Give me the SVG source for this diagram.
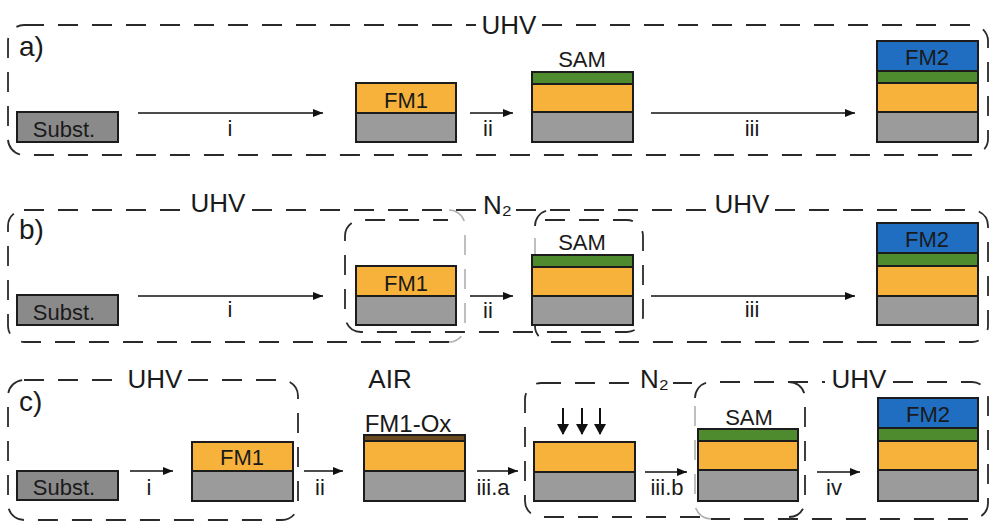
<svg xmlns="http://www.w3.org/2000/svg" width="990" height="523" viewBox="0 0 990 523">
<defs>
<style>
.dash{fill:none;stroke:#2a2a2a;stroke-width:1.8;stroke-dasharray:20 14}
.dashl{fill:none;stroke:#b0b0b0;stroke-width:1.6;stroke-dasharray:20 14}
.lay{stroke:#1c1c1c;stroke-width:2}
.sub{fill:#8a8a8a}.gry{fill:#9b9b9b}.org{fill:#F7B23B}.grn{fill:#4E8B2F}.blu{fill:#1F6EC2}.oxd{fill:#6B4A20}
.t{font-family:"Liberation Sans",Arial,"DejaVu Sans",sans-serif;fill:#1a1a1a}
.big{font-size:26px}.lbl{font-size:22px}.pl{font-size:28px}
.arr{stroke:#111;stroke-width:1.6;fill:none;marker-end:url(#ah)}
.darr{stroke:#111;stroke-width:2;fill:none;marker-end:url(#ah2)}
</style>
<marker id="ah" markerWidth="10" markerHeight="8" refX="10" refY="4" orient="auto" markerUnits="userSpaceOnUse"><path d="M0,0 L10,4 L0,8 z" fill="#111"/></marker>
<marker id="ah2" markerWidth="11" markerHeight="12" refX="10" refY="6" orient="auto" markerUnits="userSpaceOnUse"><path d="M0,0 L11,6 L0,12 z" fill="#111"/></marker>
</defs>
<rect width="990" height="523" fill="#fff"/>

<g id="regions">
  <!-- panel a -->
  <path class="dash" d="M24,25 H476 M542,25 H972 A16,16 0 0 1 988,41 V139 A16,16 0 0 1 972,155 H24 A16,16 0 0 1 8,139 V41 A16,16 0 0 1 24,25"/>
  <!-- panel b -->
  <path class="dash" d="M24,210 H186 M252,210 H479 M449,342 H24 A16,16 0 0 1 8,326 V226 A16,16 0 0 1 24,210"/>
  <path class="dashl" d="M449,210 A16,16 0 0 1 465,226 V326 A16,16 0 0 1 449,342"/>
  <path class="dash" d="M545,220 H627 A16,16 0 0 1 643,236 V316 A16,16 0 0 1 627,332 H361 A16,16 0 0 1 345,316 V236 A16,16 0 0 1 361,220 H448"/>
  <path class="dash" d="M516,210 H709 M775,210 H972 A16,16 0 0 1 988,226 V326 A16,16 0 0 1 972,342 H551 A16,16 0 0 1 535,326 M535,226 A16,16 0 0 1 551,210"/>
  <path class="dashl" d="M535,326 V226"/>
  <!-- panel c -->
  <path class="dash" d="M24,380 H121 M188,380 H282 A16,16 0 0 1 298,396 V504 A16,16 0 0 1 282,520 H24 A16,16 0 0 1 8,504 V396 A16,16 0 0 1 24,380"/>
  <path class="dash" d="M541,383 H633 M673,383 H692 M789,382 A16,16 0 0 1 805,398 V501 A16,16 0 0 1 789,517 M700,517 H541 A16,16 0 0 1 525,501 V399 A16,16 0 0 1 541,383"/>
  <path class="dash" d="M695,398 A16,16 0 0 1 711,382 H825 M893,382 H972 A16,16 0 0 1 988,398 V503 A16,16 0 0 1 972,519 H711"/>
  <path class="dashl" d="M711,519 A16,16 0 0 1 695,503 V398"/>
</g>

<g id="region-labels">
  <text class="t big" x="509" y="34" text-anchor="middle">UHV</text>
  <text class="t big" x="218" y="212" text-anchor="middle">UHV</text>
  <text class="t big" x="483" y="214">N₂</text>
  <text class="t big" x="742" y="213" text-anchor="middle">UHV</text>
  <text class="t big" x="155" y="388" text-anchor="middle">UHV</text>
  <text class="t big" x="390" y="388" text-anchor="middle">AIR</text>
  <text class="t big" x="640" y="388">N₂</text>
  <text class="t big" x="859" y="388" text-anchor="middle">UHV</text>
  <text class="t pl" x="19" y="56">a)</text>
  <text class="t pl" x="19" y="239">b)</text>
  <text class="t pl" x="19" y="411">c)</text>
</g>

<!-- panel a nodes -->
<g id="a-subst">
  <rect class="sub lay" x="17" y="112" width="101" height="30"/>
  <text class="t lbl" x="64" y="137" text-anchor="middle" font-size="23">Subst.</text>
</g>
<g id="a-fm1">
  <rect class="org lay" x="356" y="83" width="100" height="30"/>
  <rect class="gry lay" x="356" y="113" width="100" height="29"/>
  <text class="t lbl" x="406" y="108" text-anchor="middle">FM1</text>
</g>
<g id="a-sam">
  <text class="t lbl" x="582" y="67" text-anchor="middle">SAM</text>
  <rect class="grn lay" x="532" y="72" width="101" height="12"/>
  <rect class="org lay" x="532" y="84" width="101" height="28"/>
  <rect class="gry lay" x="532" y="112" width="101" height="30"/>
</g>
<g id="a-fm2">
  <rect class="blu lay" x="877" y="41" width="101" height="30"/>
  <rect class="grn lay" x="877" y="71" width="101" height="12"/>
  <rect class="org lay" x="877" y="83" width="101" height="29"/>
  <rect class="gry lay" x="877" y="112" width="101" height="30"/>
  <text class="t lbl" x="927" y="65" text-anchor="middle">FM2</text>
</g>

<!-- panel b nodes -->
<g id="b-subst">
  <rect class="sub lay" x="17" y="295" width="101" height="30"/>
  <text class="t lbl" x="64" y="320" text-anchor="middle" font-size="23">Subst.</text>
</g>
<g id="b-fm1">
  <rect class="org lay" x="356" y="266" width="100" height="30"/>
  <rect class="gry lay" x="356" y="296" width="100" height="29"/>
  <text class="t lbl" x="406" y="291" text-anchor="middle">FM1</text>
</g>
<g id="b-sam">
  <text class="t lbl" x="582" y="250" text-anchor="middle">SAM</text>
  <rect class="grn lay" x="532" y="255" width="101" height="12"/>
  <rect class="org lay" x="532" y="267" width="101" height="29"/>
  <rect class="gry lay" x="532" y="296" width="101" height="29"/>
</g>
<g id="b-fm2">
  <rect class="blu lay" x="877" y="223" width="101" height="30"/>
  <rect class="grn lay" x="877" y="253" width="101" height="13"/>
  <rect class="org lay" x="877" y="266" width="101" height="30"/>
  <rect class="gry lay" x="877" y="296" width="101" height="29"/>
  <text class="t lbl" x="927" y="247" text-anchor="middle">FM2</text>
</g>

<!-- panel c nodes -->
<g id="c-subst">
  <rect class="sub lay" x="17" y="471" width="101" height="29"/>
  <text class="t lbl" x="64" y="495" text-anchor="middle" font-size="23">Subst.</text>
</g>
<g id="c-fm1">
  <rect class="org lay" x="192" y="442" width="101" height="29"/>
  <rect class="gry lay" x="192" y="471" width="101" height="30"/>
  <text class="t lbl" x="242" y="465" text-anchor="middle">FM1</text>
</g>
<g id="c-fm1ox">
  <text class="t" x="408" y="432" text-anchor="middle" font-size="24">FM1-Ox</text>
  <rect class="oxd lay" x="364" y="435" width="101" height="6"/>
  <rect class="org lay" x="364" y="441" width="101" height="30"/>
  <rect class="gry lay" x="364" y="471" width="101" height="30"/>
</g>
<g id="c-fm1-n2">
  <line class="darr" x1="563" y1="408" x2="563" y2="434"/>
  <line class="darr" x1="582" y1="408" x2="582" y2="434"/>
  <line class="darr" x1="600" y1="408" x2="600" y2="434"/>
  <rect class="org lay" x="534" y="442" width="101" height="30"/>
  <rect class="gry lay" x="534" y="472" width="101" height="29"/>
</g>
<g id="c-sam">
  <text class="t lbl" x="749" y="425" text-anchor="middle">SAM</text>
  <rect class="grn lay" x="698" y="429" width="100" height="12"/>
  <rect class="org lay" x="698" y="441" width="100" height="29"/>
  <rect class="gry lay" x="698" y="470" width="100" height="31"/>
</g>
<g id="c-fm2">
  <rect class="blu lay" x="878" y="398" width="100" height="30"/>
  <rect class="grn lay" x="878" y="428" width="100" height="13"/>
  <rect class="org lay" x="878" y="441" width="100" height="29"/>
  <rect class="gry lay" x="878" y="470" width="100" height="31"/>
  <text class="t lbl" x="928" y="422" text-anchor="middle">FM2</text>
</g>

<g id="connectors">
  <line class="arr" x1="138" y1="113" x2="323" y2="113"/>
  <line class="arr" x1="470" y1="113" x2="513" y2="113"/>
  <line class="arr" x1="651" y1="113" x2="855" y2="113"/>
  <line class="arr" x1="138" y1="296" x2="323" y2="296"/>
  <line class="arr" x1="470" y1="296" x2="513" y2="296"/>
  <line class="arr" x1="651" y1="296" x2="855" y2="296"/>
  <line class="arr" x1="130" y1="471" x2="173" y2="471"/>
  <line class="arr" x1="304" y1="471" x2="343" y2="471"/>
  <line class="arr" x1="477" y1="471" x2="518" y2="471"/>
  <line class="arr" x1="645" y1="472" x2="687" y2="472"/>
  <line class="arr" x1="817" y1="472" x2="860" y2="472"/>
  <text class="t lbl" x="230" y="136" text-anchor="middle">i</text>
  <text class="t lbl" x="488" y="136" text-anchor="middle">ii</text>
  <text class="t lbl" x="752" y="136" text-anchor="middle">iii</text>
  <text class="t lbl" x="230" y="317" text-anchor="middle">i</text>
  <text class="t lbl" x="488" y="318" text-anchor="middle">ii</text>
  <text class="t lbl" x="752" y="317" text-anchor="middle">iii</text>
  <text class="t lbl" x="149" y="495" text-anchor="middle">i</text>
  <text class="t lbl" x="320" y="495" text-anchor="middle">ii</text>
  <text class="t lbl" x="493" y="495" text-anchor="middle">iii.a</text>
  <text class="t lbl" x="667" y="495" text-anchor="middle">iii.b</text>
  <text class="t lbl" x="834" y="495" text-anchor="middle">iv</text>
</g>
</svg>
